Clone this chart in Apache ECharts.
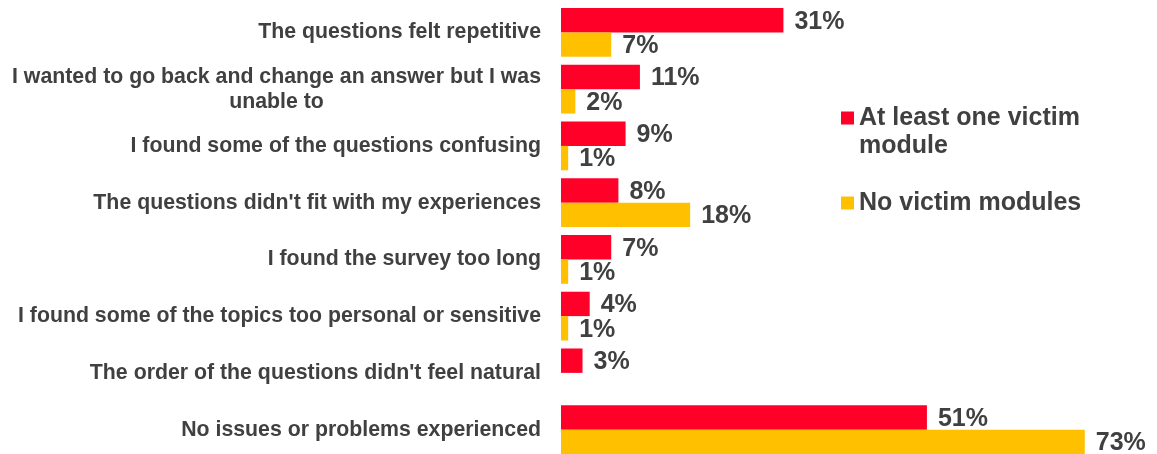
<!DOCTYPE html>
<html>
<head>
<meta charset="utf-8">
<script src="https://cdn.jsdelivr.net/npm/echarts@6/dist/echarts.min.js"></script>
<style>
  html, body { margin: 0; padding: 0; background: #ffffff; overflow: hidden; }
  /* the last bar runs slightly past the bottom of the frame */
  #chart { width: 1157px; height: 460px; }
</style>
</head>
<body>
<div id="chart"></div>
<script>
// Survey feedback: share of respondents reporting each issue
const categories = [
  'The questions felt repetitive',
  'I wanted to go back and change an answer but I was\nunable to',
  'I found some of the questions confusing',
  "The questions didn't fit with my experiences",
  'I found the survey too long',
  'I found some of the topics too personal or sensitive',
  "The order of the questions didn't feel natural",
  'No issues or problems experienced'
];
const seriesNames = ['At least one victim module', 'No victim modules'];
const victimModule = [31, 11, 9, 8, 7, 4, 3, 51];
const noVictimModule = [7, 2, 1, 18, 1, 1, null, 73];

const TEXT = '#404040';
const FONT = '"Liberation Sans", Arial, sans-serif';

const chart = echarts.init(document.getElementById('chart'), null, { renderer: 'canvas' });

const valueLabel = {
  show: true,
  position: 'right',
  distance: 11,
  offset: [0, 1.5],
  color: TEXT,
  fontFamily: FONT,
  fontWeight: 'bold',
  fontSize: 25,
  formatter: p => p.value + '%'
};

const legendText = {
  color: TEXT, fontFamily: FONT, fontWeight: 'bold', fontSize: 25, lineHeight: 28
};

chart.setOption({
  animation: false,
  backgroundColor: '#ffffff',
  grid: { left: 561, right: 22, top: 4, bottom: 2 },
  legend: [
    {
      data: [seriesNames[0]],
      orient: 'vertical',
      left: 841,
      top: 76,
      padding: 0,
      icon: 'rect',
      itemWidth: 13,
      itemHeight: 13,
      selectedMode: false,
      textStyle: legendText,
      // blank first line keeps the icon level with the first text line
      formatter: () => '\nAt least one victim\nmodule'
    },
    {
      data: [seriesNames[1]],
      orient: 'vertical',
      left: 841,
      top: 189,
      padding: 0,
      icon: 'rect',
      itemWidth: 13,
      itemHeight: 13,
      selectedMode: false,
      textStyle: legendText
    }
  ],
  xAxis: {
    type: 'value',
    min: 0,
    max: 80,
    show: false
  },
  yAxis: {
    type: 'category',
    data: categories,
    inverse: true,
    axisLine: { show: false },
    axisTick: { show: false },
    splitLine: { show: false },
    axisLabel: {
      margin: 20,
      color: TEXT,
      fontFamily: FONT,
      fontWeight: 'bold',
      fontSize: 21.3,
      lineHeight: 25,
      formatter: v => v.split('\n').map(s => '{c|' + s + '}').join('\n'),
      rich: {
        c: {
          align: 'center',
          color: TEXT,
          fontFamily: FONT,
          fontWeight: 'bold',
          fontSize: 21.3,
          lineHeight: 25
        }
      }
    }
  },
  series: [
    {
      name: seriesNames[0],
      type: 'bar',
      data: victimModule,
      barWidth: 24.4,
      barGap: '0%',
      itemStyle: { color: '#FF0029' },
      label: valueLabel
    },
    {
      name: seriesNames[1],
      type: 'bar',
      data: noVictimModule,
      barWidth: 24.4,
      barGap: '0%',
      itemStyle: { color: '#FFC000' },
      label: valueLabel
    }
  ]
});
</script>
</body>
</html>
